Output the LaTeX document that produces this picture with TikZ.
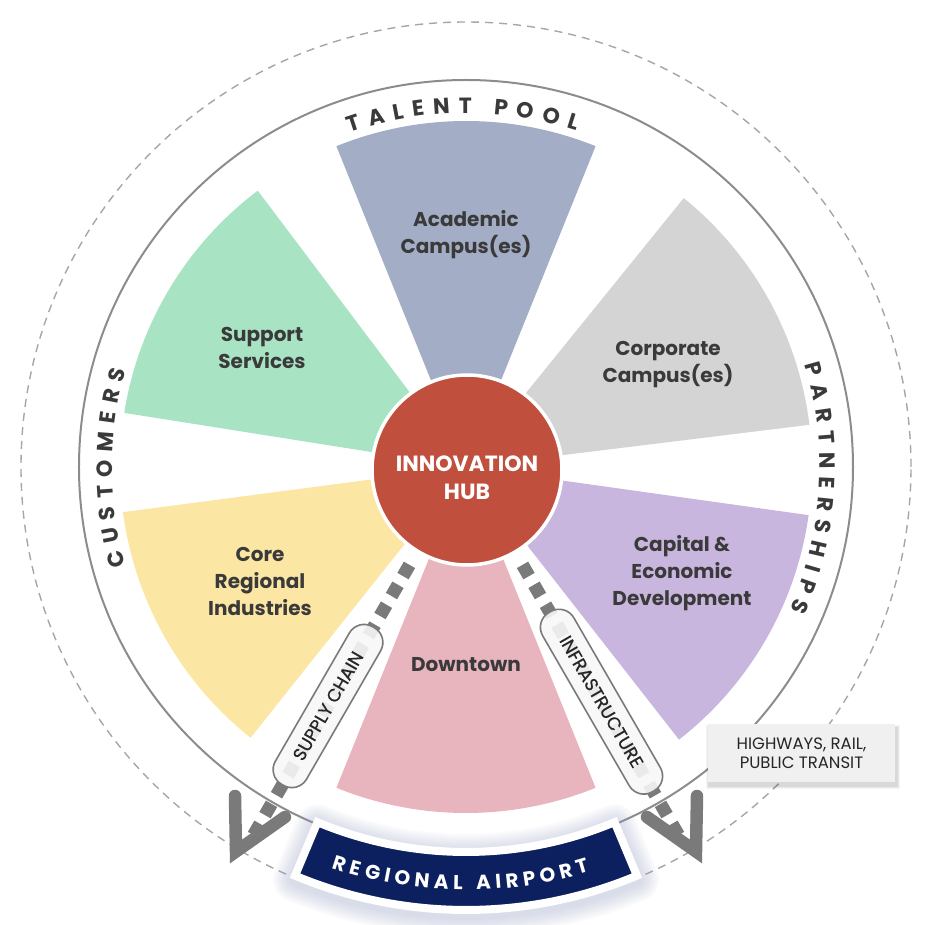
\documentclass[tikz,border=0pt]{standalone}
\usepackage{fontspec}
\setmainfont{Poppins}
\usetikzlibrary{decorations.text}
\definecolor{acad}{HTML}{A3AEC6}
\definecolor{supp}{HTML}{A8E3C4}
\definecolor{corp}{HTML}{D4D4D4}
\definecolor{core}{HTML}{FCE6A4}
\definecolor{down}{HTML}{E8B4BE}
\definecolor{capi}{HTML}{C9B6DF}
\definecolor{hubc}{HTML}{C0503D}
\definecolor{navy}{HTML}{0C1F5E}
\definecolor{txt}{HTML}{3A3A3A}
\definecolor{roadc}{HTML}{7A7A7A}
\definecolor{ringc}{HTML}{8C8C8C}
\definecolor{glowc}{HTML}{9AA3C4}
\definecolor{boxc}{HTML}{F0F0F0}
\begin{document}
\begin{tikzpicture}[x=1pt,y=1pt,
  lbl/.style={text=txt, font=\fontsize{20}{27}\selectfont\bfseries, align=center},
  roaddash/.style={draw=roadc, line width=13pt, dash pattern=on 13pt off 10pt},
  pill/.style={draw=roadc, line width=1.6pt, fill=gray!6, fill opacity=0.9, text opacity=1, rounded corners=17pt, minimum height=36pt, inner sep=0pt, text=black!85, font=\fontsize{18}{18}\selectfont\addfontfeature{FakeBold=0.6}},
  chev/.style={draw=roadc, line width=12.5pt, line cap=round, line join=miter},
  arctext/.style={decorate, decoration={text along path, text align={fit to path}, text={#1}}},
  bannerp/.style={insert path={(247.3:385) arc[start angle=247.3, end angle=292.7, radius=385] -- (292.7:443) arc[start angle=292.7, end angle=247.3, radius=443] -- cycle}},
]
\useasboundingbox (-466,-458) rectangle (468,467);
% rings
\draw[gray!70, line width=1.4pt, dash pattern=on 8pt off 6pt] (0,0) circle[radius=445];
\draw[ringc, line width=2pt] (0,0) circle[radius=387];
% sectors
\foreach \c/\col in {90/acad,149/supp,29/corp,209.5/core,270/down,330/capi}
  \fill[\col] (0,0) -- (\c-22:346) arc[start angle=\c-22, end angle=\c+22, radius=346] -- cycle;
% roads
\coordinate (sc0) at (240:113);
\coordinate (sc1) at (240:428);
\coordinate (in0) at (300:113);
\coordinate (in1) at (300:428);
\draw[roaddash] (sc0) -- (sc1);
\draw[roaddash] (in0) -- (in1);
% hub
\node[circle, fill=hubc, draw=white, line width=3.5pt, minimum size=190pt, inner sep=0pt] (hub) at (1,-3) {};
\node[text=white, font=\fontsize{22}{28}\selectfont\bfseries, align=center] (hubtxt) at (1,-10.5) {INNOVATION\\HUB};
% pills
\node[pill, rotate=60, minimum width=182pt] (sup) at (240:276) {SUPPLY CHAIN};
\node[pill, rotate=-60, minimum width=207pt] (inf) at (300:271) {INFRASTRUCTURE};
% chevrons
\coordinate (scA) at (-231,-329);
\coordinate (scT) at (-230,-384.5);
\coordinate (scB) at (-181,-350);
\coordinate (inA) at (231,-329);
\coordinate (inT) at (230,-384.5);
\coordinate (inB) at (181,-350);
\draw[chev] (scA) -- (scT) -- (scB);
\draw[chev] (inA) -- (inT) -- (inB);
% banner
\foreach \w in {44,40,36,32,28,24,20,16,12}
  \draw[draw=glowc, line width=\w pt, draw opacity=0.05, line join=round, yshift=-4pt, bannerp];
\filldraw[fill=navy, draw=white, line width=8pt, line join=miter, bannerp];
\path[arctext={|\fontsize{20}{20}\selectfont\bfseries\color{white}|REGIONAL AIRPORT}] (251.5:423) arc[start angle=251.5, end angle=287, radius=423];
% highways box
\foreach \d/\o in {3/0.04,2/0.05,1/0.07}
  \fill[black, opacity=\o] (242+1-\d,-257-4+\d) rectangle (429+2+\d,-315-4-\d);
\node[fill=boxc, minimum width=187pt, minimum height=58pt, inner sep=0pt, text=black!85, font=\fontsize{16.5}{19}\selectfont, align=center] (hw) at (335.5,-286) {HIGHWAYS, RAIL,\\PUBLIC TRANSIT};
% ring texts
\path[arctext={|\fontsize{22}{22}\selectfont\bfseries\color{txt}|TALENT POOL}] (109.2:354) arc[start angle=109.2, end angle=71.8, radius=354];
\path[arctext={|\fontsize{22}{22}\selectfont\bfseries\color{txt}|CUSTOMERS}] (196.2:354) arc[start angle=196.2, end angle=164.1, radius=354];
\path[arctext={|\fontsize{22}{22}\selectfont\bfseries\color{txt}|PARTNERSHIPS}] (16.8:354) arc[start angle=16.8, end angle=-23.8, radius=354];
% labels
\node[lbl] (lacad) at (0,232) {Academic\\Campus(es)};
\node[lbl] (lsupp) at (-204,119) {Support\\Services};
\node[lbl] (lcorp) at (202,102) {Corporate\\Campus(es)};
\node[lbl] (lcore) at (-206,-114) {Core\\Regional\\Industries};
\node[lbl] (ldown) at (0,-198) {Downtown};
\node[lbl] (lcapi) at (216,-106) {Capital \&\\Economic\\Development};
\end{tikzpicture}
\end{document}
